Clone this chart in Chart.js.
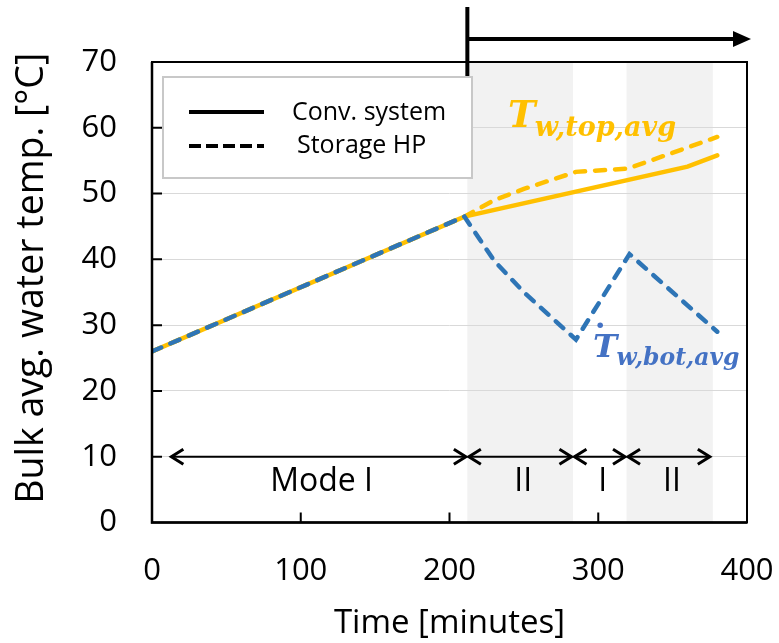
<!DOCTYPE html>
<html>
<head>
<meta charset="utf-8">
<script src="https://cdn.jsdelivr.net/npm/chart.js@4.4.1/dist/chart.umd.min.js"></script>
<style>
  html, body { margin: 0; padding: 0; background: #fff; }
  canvas { display: block; }
</style>
</head>
<body>
<canvas id="chart" width="779" height="643"></canvas>
<script>
// Bulk average water temperature over time [minutes, °C]
const timeConvTop = [0, 210, 360, 380];
const tempConvTop = [26, 46.5, 54.1, 55.8];

const timeHpTop = [0, 210, 230, 250, 285, 320, 380];
const tempHpTop = [26, 46.5, 49.0, 50.7, 53.3, 53.8, 58.6];

const timeHpBot = [0, 210, 230, 250, 285, 321, 380];
const tempHpBot = [26, 46.5, 39.8, 35.0, 27.8, 40.8, 29.0];

// Axis ticks
const xTickValues = [0, 100, 200, 300, 400];
const yTickValues = [0, 10, 20, 30, 40, 50, 60, 70];
const yTitle = 'Bulk avg. water temp. [°C]';

// Operating modes (start, end, label) and the shaded Mode II periods
const modeStart = [12, 212, 283, 319];
const modeEnd = [212, 283, 319, 376];
const modeNames = ['Mode I', 'II', 'I', 'II'];
const shadeStart = [212, 319];
const shadeEnd = [283, 377];
const modeArrowLevel = 10;   // °C level of the mode arrows
const switchTime = 212;      // storage HP operation begins

// Legend entries
const legendNames = ['Conv. system', 'Storage HP'];

const ORANGE = '#FFC000';
const BLUE = '#2E75B6';
const BLUE_TEXT = '#4472C4';
const SANS = '"Open Sans", "DejaVu Sans", sans-serif';
const SERIF = '"DejaVu Serif", serif';

const toPoints = (xs, ys) => xs.map((v, i) => ({ x: v, y: ys[i] }));

function chevron(ctx, tipX, y, dir) {
  ctx.beginPath();
  ctx.moveTo(tipX - dir * 12, y - 7.5);
  ctx.lineTo(tipX, y);
  ctx.lineTo(tipX - dir * 12, y + 7.5);
  ctx.stroke();
}

const decor = {
  id: 'decor',
  beforeDraw(chart) {
    const { ctx, chartArea: a, scales: { x } } = chart;
    ctx.save();
    ctx.fillStyle = '#fff';
    ctx.fillRect(0, 0, chart.width, chart.height);
    ctx.fillStyle = '#f2f2f2';
    shadeStart.forEach((s, i) => {
      const x0 = x.getPixelForValue(s), x1 = x.getPixelForValue(shadeEnd[i]);
      ctx.fillRect(x0, a.top, x1 - x0, a.bottom - a.top);
    });
    ctx.restore();
  },
  afterDraw(chart) {
    const { ctx, chartArea: a, scales: { x, y } } = chart;
    ctx.save();

    // y axis title, set slightly above the axis middle
    ctx.save();
    ctx.translate(32, (a.top + a.bottom) / 2 - 14);
    ctx.rotate(-Math.PI / 2);
    ctx.fillStyle = '#000';
    ctx.font = '37.5px ' + SANS;
    ctx.textAlign = 'center';
    ctx.textBaseline = 'middle';
    ctx.fillText(yTitle, 0, 0);
    ctx.restore();

    // plot frame
    ctx.strokeStyle = '#000';
    ctx.lineWidth = 2;
    ctx.strokeRect(a.left, a.top, a.right - a.left, a.bottom - a.top);
    ctx.lineWidth = 2.5;
    ctx.beginPath();
    ctx.moveTo(a.left, a.top); ctx.lineTo(a.left, a.bottom); ctx.lineTo(a.right, a.bottom);
    ctx.stroke();

    // inward tick marks
    ctx.lineWidth = 2;
    ctx.beginPath();
    yTickValues.slice(1, -1).forEach(v => {
      const py = y.getPixelForValue(v);
      ctx.moveTo(a.left, py); ctx.lineTo(a.left + 10, py);
    });
    xTickValues.slice(1, -1).forEach(v => {
      const px = x.getPixelForValue(v);
      ctx.moveTo(px, a.bottom); ctx.lineTo(px, a.bottom - 10);
    });
    ctx.stroke();

    // mode arrows and labels
    const ay = y.getPixelForValue(modeArrowLevel);
    ctx.lineCap = 'butt';
    modeStart.forEach((s, i) => {
      const x0 = x.getPixelForValue(s) + 1.5, x1 = x.getPixelForValue(modeEnd[i]) - 1.5;
      ctx.lineWidth = 2;
      ctx.beginPath(); ctx.moveTo(x0, ay); ctx.lineTo(x1, ay); ctx.stroke();
      ctx.lineWidth = 3;
      chevron(ctx, x0, ay, -1);
      chevron(ctx, x1, ay, 1);
      ctx.fillStyle = '#000';
      ctx.font = '32px ' + SANS;
      ctx.textAlign = 'center';
      ctx.textBaseline = 'alphabetic';
      ctx.fillText(modeNames[i], (x0 + x1) / 2 + 3, ay + 34);
    });

    // legend box
    const lx = a.left + 11, ly = a.top + 15, lw = 309, lh = 101;
    ctx.fillStyle = '#fff';
    ctx.fillRect(lx, ly, lw, lh);
    ctx.strokeStyle = '#c8c8c8';
    ctx.lineWidth = 2;
    ctx.strokeRect(lx, ly, lw, lh);
    ctx.strokeStyle = '#000';
    ctx.lineWidth = 4;
    ctx.beginPath(); ctx.moveTo(lx + 26, ly + 35); ctx.lineTo(lx + 101, ly + 35); ctx.stroke();
    ctx.setLineDash([12, 5]);
    ctx.beginPath(); ctx.moveTo(lx + 26, ly + 69); ctx.lineTo(lx + 101, ly + 69); ctx.stroke();
    ctx.setLineDash([]);
    ctx.fillStyle = '#000';
    ctx.font = '25px ' + SANS;
    ctx.textAlign = 'left';
    ctx.fillText(legendNames[0], lx + 129, ly + 43);
    ctx.fillText(legendNames[1], lx + 134, ly + 76);

    // storage HP start marker arrow above the plot
    const sx = x.getPixelForValue(switchTime);
    ctx.strokeStyle = '#000';
    ctx.lineWidth = 4;
    ctx.beginPath(); ctx.moveTo(sx, a.top - 55); ctx.lineTo(sx, a.top + 14); ctx.stroke();
    const hy = a.top - 23;
    ctx.beginPath(); ctx.moveTo(sx, hy); ctx.lineTo(a.right - 10, hy); ctx.stroke();
    ctx.fillStyle = '#000';
    ctx.beginPath();
    ctx.moveTo(a.right + 4, hy);
    ctx.lineTo(a.right - 14, hy - 8);
    ctx.lineTo(a.right - 14, hy + 8);
    ctx.closePath(); ctx.fill();

    // series labels
    function mathLabel(main, sub, tx, ty, bigSize, subSize, color, dot) {
      const px = x.getPixelForValue(tx), py = y.getPixelForValue(ty);
      ctx.fillStyle = color;
      ctx.textAlign = 'left';
      ctx.textBaseline = 'alphabetic';
      ctx.font = 'italic bold ' + bigSize + 'px ' + SERIF;
      ctx.fillText(main, px, py);
      const w = ctx.measureText(main).width;
      if (dot) {
        ctx.beginPath();
        ctx.arc(px + bigSize * 0.22, py - bigSize * 0.97, bigSize * 0.085, 0, Math.PI * 2);
        ctx.fill();
      }
      ctx.font = 'italic bold ' + subSize + 'px ' + SERIF;
      ctx.fillText(sub, px + w - bigSize * 0.02, py + bigSize * 0.24);
    }
    mathLabel('T', 'w,top,avg', 239.3, 60.1, 37, 27, ORANGE, false);
    mathLabel('T', 'w,bot,avg', 296.5, 25.2, 32.5, 23.5, BLUE_TEXT, true);

    ctx.restore();
  }
};

new Chart(document.getElementById('chart'), {
  type: 'line',
  data: {
    datasets: [
      {
        label: 'Storage HP (bottom)',
        data: toPoints(timeHpBot, tempHpBot),
        borderColor: BLUE, borderWidth: 4.5, borderDash: [10, 10], borderCapStyle: 'round',
        pointRadius: 0, tension: 0, fill: false, order: 1
      },
      {
        label: 'Storage HP (top)',
        data: toPoints(timeHpTop, tempHpTop),
        borderColor: ORANGE, borderWidth: 4.5, borderDash: [10, 10], borderCapStyle: 'round',
        pointRadius: 0, tension: 0, fill: false, order: 2
      },
      {
        label: 'Conv. system (top)',
        data: toPoints(timeConvTop, tempConvTop),
        borderColor: ORANGE, borderWidth: 4.5, borderCapStyle: 'round',
        pointRadius: 0, tension: 0, fill: false, order: 3
      }
    ]
  },
  options: {
    responsive: false,
    animation: false,
    events: [],
    layout: { padding: { left: 0, right: 32, top: 62, bottom: 0 } },
    plugins: { legend: { display: false }, tooltip: { enabled: false } },
    scales: {
      x: {
        type: 'linear', min: 0, max: 400,
        afterBuildTicks: s => { s.ticks = xTickValues.map(v => ({ value: v })); },
        afterFit: s => { s.height = 120.5; s.paddingLeft = 0; s.paddingRight = 0; },
        grid: { display: false, drawTicks: false },
        border: { display: false },
        ticks: { color: '#000', font: { family: SANS, size: 31 }, padding: 30, maxRotation: 0 },
        title: {
          display: true, text: 'Time [minutes]', color: '#000',
          font: { family: SANS, size: 33 }, padding: { top: 0, bottom: 0 }
        }
      },
      y: {
        type: 'linear', min: 0, max: 70,
        afterBuildTicks: s => { s.ticks = yTickValues.map(v => ({ value: v })); },
        afterFit: s => { s.width = 152; s.paddingTop = 0; s.paddingBottom = 0; },
        grid: { color: '#d9d9d9', lineWidth: 1, drawTicks: false },
        border: { display: false },
        ticks: { color: '#000', font: { family: SANS, size: 31 }, padding: 35 }
      }
    }
  },
  plugins: [decor]
});
</script>
</body>
</html>
